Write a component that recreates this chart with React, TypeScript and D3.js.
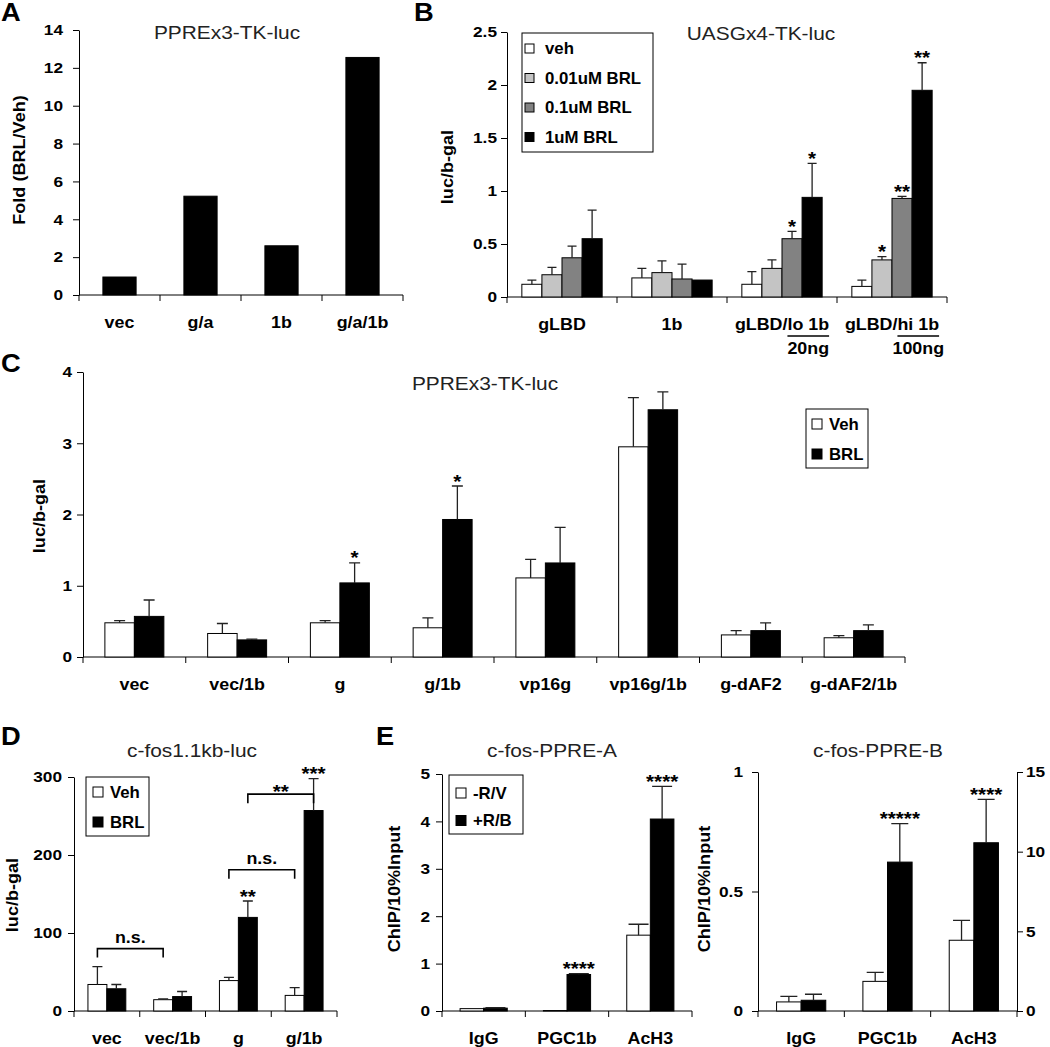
import React, { useEffect, useRef } from 'react';
import * as d3 from 'd3';

const FONT = "'Liberation Sans', Arial, Helvetica, sans-serif";

// ---- A: PPREx3-TK-luc fold induction
const aCats = ['vec', 'g/a', '1b', 'g/a/1b'];
const aFold = [0.95, 5.22, 2.6, 12.55];
const aTicks = [0, 2, 4, 6, 8, 10, 12, 14];

// ---- B: UASGx4-TK-luc, BRL dose response
const bCats = ['gLBD', '1b', 'gLBD/lo 1b', 'gLBD/hi 1b'];
const bSub = ['', '', '20ng', '100ng'];
const bDoses = ['veh', '0.01uM BRL', '0.1uM BRL', '1uM BRL'];
const bFills = ['#ffffff', '#c4c4c4', '#828282', '#000000'];
const bVeh = [0.12, 0.18, 0.12, 0.1];
const bVehErr = [0.16, 0.27, 0.24, 0.16];
const b001 = [0.21, 0.23, 0.27, 0.35];
const b001Err = [0.28, 0.34, 0.35, 0.38];
const b001Stars = ['', '', '', '*'];
const b01 = [0.37, 0.17, 0.55, 0.93];
const b01Err = [0.48, 0.31, 0.62, 0.95];
const b01Stars = ['', '', '*', '**'];
const b1 = [0.55, 0.16, 0.94, 1.95];
const b1Err = [0.82, 0.16, 1.26, 2.21];
const b1Stars = ['', '', '*', '**'];
const bTicks = [0, 0.5, 1, 1.5, 2, 2.5];

// ---- C: PPREx3-TK-luc, Veh vs BRL
const cCats = ['vec', 'vec/1b', 'g', 'g/1b', 'vp16g', 'vp16g/1b', 'g-dAF2', 'g-dAF2/1b'];
const cVeh = [0.48, 0.33, 0.48, 0.41, 1.11, 2.95, 0.31, 0.27];
const cVehErr = [0.51, 0.47, 0.51, 0.55, 1.37, 3.64, 0.37, 0.3];
const cBrl = [0.57, 0.24, 1.04, 1.93, 1.32, 3.47, 0.37, 0.37];
const cBrlErr = [0.8, 0.25, 1.32, 2.4, 1.82, 3.72, 0.48, 0.45];
const cBrlStars = ['', '', '*', '*', '', '', '', ''];
const cTicks = [0, 1, 2, 3, 4];

// ---- D: c-fos1.1kb-luc
const dCats = ['vec', 'vec/1b', 'g', 'g/1b'];
const dVeh = [34, 14.5, 39, 20];
const dVehErr = [57, 15.5, 43, 30];
const dBrl = [28.5, 18.5, 120, 257];
const dBrlErr = [34, 25, 141, 298];
const dBrlStars = ['', '', '**', '***'];
const dTicks = [0, 100, 200, 300];
// [category, series] pairs joined by a bracket, bracket height in data units
const dBrackets = [
  { a: ['vec', 0], b: ['vec/1b', 0], v: 80, label: 'n.s.' },
  { a: ['g', 0], b: ['g/1b', 0], v: 181, label: 'n.s.' },
  { a: ['g', 1], b: ['g/1b', 1], v: 278, label: '**' },
];

// ---- E: ChIP
const eCats = ['IgG', 'PGC1b', 'AcH3'];
const eLabels = ['-R/V', '+R/B'];
const eaVeh = [0.05, 0.01, 1.6];
const eaVehErr = [0.05, 0.01, 1.83];
const eaBrl = [0.06, 0.77, 4.05];
const eaBrlErr = [0.07, 0.79, 4.74];
const eaStars = ['', '****', '****'];
const eaTicks = [0, 1, 2, 3, 4, 5];
const ebVeh = [0.038, 0.124, 4.44];
const ebVehErr = [0.061, 0.162, 5.69];
const ebBrl = [0.045, 0.623, 10.56];
const ebBrlErr = [0.07, 0.784, 13.28];
const ebStars = ['', '*****', '****'];
const ebTicks = [0, 0.5, 1];
const ebRightTicks = [0, 5, 10, 15];

const treat = ['Veh', 'BRL'];

// text helper; sx widens the lettering a bit like in the scanned figure
function txt(g, x, y, s, size, o: any = {}) {
  const sx = o.sx ?? 1.05;
  const t = g
    .append('g')
    .attr('transform', `translate(${x},${y})` + (o.rot ? ` rotate(${o.rot})` : '') + ` scale(${sx},1)`)
    .append('text')
    .attr('text-anchor', o.anchor || 'middle')
    .attr('font-family', FONT)
    .attr('font-size', size)
    .attr('font-weight', o.normal ? 'normal' : 'bold')
    .attr('fill', o.fill || '#000')
    .text(s);
  if (o.dy) t.attr('dy', o.dy);
  return t;
}

function styleAxis(ax) {
  ax.attr('font-family', FONT).attr('font-size', 15).attr('font-weight', 'bold').attr('color', '#000');
  ax.selectAll('.tick text').each(function () {
    const t = d3.select(this);
    const xx = +t.attr('x');
    t.attr('x', 0).attr('transform', `translate(${xx},0) scale(1.15,1)`);
  });
}

function legend(g, L) {
  g.append('rect')
    .attr('x', L.x).attr('y', L.y).attr('width', L.w).attr('height', L.h)
    .attr('fill', '#fff').attr('stroke', '#000').attr('stroke-width', 1);
  L.items.forEach((label, i) => {
    const cy = L.row0 + i * L.step;
    g.append('rect')
      .attr('x', L.sx).attr('y', cy - L.ss / 2).attr('width', L.ss).attr('height', L.ss)
      .attr('fill', L.fills[i]).attr('stroke', '#000').attr('stroke-width', 1);
    txt(g, L.tx, cy, label, 16, { anchor: 'start', dy: '0.36em' });
  });
}

function drawPanel(svg, p) {
  const g = svg.append('g');
  const x = d3.scaleBand().domain(p.cats).range([p.x0, p.x1]);
  const y = d3.scaleLinear().domain([0, p.max]).range([p.yb, p.yt]);
  const yR = p.rMax ? d3.scaleLinear().domain([0, p.rMax]).range([p.yb, p.yt]) : null;
  const fmt = (d) => String(d);

  const ay = g
    .append('g')
    .attr('transform', `translate(${p.x0},0)`)
    .call(d3.axisLeft(y).tickValues(p.ticks).tickSize(6).tickSizeOuter(0).tickPadding(p.pad).tickFormat(fmt));
  styleAxis(ay);
  if (yR) {
    const ar = g
      .append('g')
      .attr('transform', `translate(${p.x1},0)`)
      .call(d3.axisRight(yR).tickValues(p.rTicks).tickSize(6).tickSizeOuter(0).tickPadding(3).tickFormat(fmt));
    styleAxis(ar);
  }

  // category axis with ticks at the group edges
  g.append('line')
    .attr('x1', p.x0).attr('x2', p.x1).attr('y1', p.yb).attr('y2', p.yb)
    .attr('stroke', '#000');
  const edges = p.cats.map((c) => x(c)).concat([p.x1]);
  g.append('g')
    .selectAll('line')
    .data(edges)
    .join('line')
    .attr('x1', (d) => d).attr('x2', (d) => d)
    .attr('y1', p.yb).attr('y2', p.yb + 6)
    .attr('stroke', '#000');

  p.cats.forEach((c, j) => {
    const lx = x(c) + x.bandwidth() / 2;
    const t = txt(g, lx, p.yb + 33, c, 17);
    if (p.subs && p.subs[j]) {
      const node = t.node();
      const k = c.indexOf('/') + 1;
      const s0 = node.getStartPositionOfChar(k).x;
      const s1 = node.getEndPositionOfChar(c.length - 1).x;
      d3.select(node.parentNode)
        .append('line')
        .attr('x1', s0).attr('x2', s1).attr('y1', 6).attr('y2', 6)
        .attr('stroke', '#000').attr('stroke-width', 1.5);
      txt(g, lx + (1.05 * (s0 + s1)) / 2, p.yb + 57, p.subs[j], 17);
    }
  });

  const w = x.bandwidth() * p.frac;
  const inner = d3.scaleBand().domain(d3.range(p.series.length)).range([-w / 2, w / 2]);
  const cx = (c, i) => x(c) + x.bandwidth() / 2 + inner(i) + inner.bandwidth() / 2;

  p.series.forEach((s, i) => {
    const rows = p.cats.map((c, j) => ({
      c,
      v: s.values[j],
      e: s.errs ? s.errs[j] : s.values[j],
      star: s.stars ? s.stars[j] : '',
      sc: c === p.rightCat ? yR : y,
    }));
    g.append('g')
      .selectAll('rect')
      .data(rows)
      .join('rect')
      .attr('x', (d) => cx(d.c, i) - inner.bandwidth() / 2)
      .attr('width', inner.bandwidth())
      .attr('y', (d) => d.sc(d.v))
      .attr('height', (d) => p.yb - d.sc(d.v))
      .attr('fill', s.fill)
      .attr('stroke', '#000')
      .attr('stroke-width', 1);
    g.append('g')
      .selectAll('path')
      .data(rows.filter((d) => d.e > d.v))
      .join('path')
      .attr('d', (d) => `M${cx(d.c, i)},${d.sc(d.v)}V${d.sc(d.e)}M${cx(d.c, i) - p.cap / 2},${d.sc(d.e)}h${p.cap}`)
      .attr('stroke', '#222')
      .attr('stroke-width', 1.3)
      .attr('fill', 'none');
    rows.filter((d) => d.star).forEach((d) => txt(g, cx(d.c, i), d.sc(d.e) + 1.5, d.star, 18, { sx: 1.15 }));
  });

  if (p.brackets) {
    p.brackets.forEach((b) => {
      const xa = cx(b.a[0], b.a[1]);
      const xb = cx(b.b[0], b.b[1]);
      const yy = y(b.v);
      g.append('path')
        .attr('d', `M${xa},${yy + 9}V${yy}H${xb}V${yy + 9}`)
        .attr('fill', 'none').attr('stroke', '#000').attr('stroke-width', 1.6);
      if (b.label === 'n.s.') txt(g, (xa + xb) / 2, yy - 6, b.label, 17);
      else txt(g, (xa + xb) / 2, yy + 4, b.label, 18, { sx: 1.15 });
    });
  }

  if (p.legend) legend(g, p.legend);
  if (p.title) txt(g, p.title[0], p.title[1], p.title[2], 18.5, { normal: true, fill: '#222', sx: 1.13 });
  if (p.ylab) txt(g, p.ylab[0], p.ylab[1], p.ylab[2], 16, { rot: -90, sx: 1.13 });
  if (p.letter) txt(g, p.letter[0], p.letter[1], p.letter[2], 26, { anchor: 'start' });
}

export default function App() {
  const ref = useRef(null);
  useEffect(() => {
    const svg = d3.select(ref.current);
    svg.selectAll('*').remove();

    drawPanel(svg, {
      cats: aCats, x0: 79, x1: 403, yb: 295, yt: 30, max: 14, ticks: aTicks, pad: 10, frac: 0.41, cap: 0,
      series: [{ values: aFold, fill: '#000' }],
      title: [227, 39, 'PPREx3-TK-luc'],
      ylab: [25, 160, 'Fold (BRL/Veh)'],
      letter: [1, 21, 'A'],
    });

    drawPanel(svg, {
      cats: bCats, subs: bSub, x0: 507, x1: 947, yb: 297, yt: 32, max: 2.5, ticks: bTicks, pad: 4, frac: 0.73, cap: 9,
      series: [
        { values: bVeh, errs: bVehErr, fill: bFills[0] },
        { values: b001, errs: b001Err, stars: b001Stars, fill: bFills[1] },
        { values: b01, errs: b01Err, stars: b01Stars, fill: bFills[2] },
        { values: b1, errs: b1Err, stars: b1Stars, fill: bFills[3] },
      ],
      legend: { x: 522, y: 33, w: 131, h: 119, items: bDoses, fills: bFills, sx: 525, ss: 9, tx: 545, row0: 48.5, step: 29.5 },
      title: [761, 40, 'UASGx4-TK-luc'],
      ylab: [453, 167, 'luc/b-gal'],
      letter: [414, 21, 'B'],
    });

    drawPanel(svg, {
      cats: cCats, x0: 83, x1: 905, yb: 657, yt: 372, max: 4, ticks: cTicks, pad: 5, frac: 0.574, cap: 11,
      series: [
        { values: cVeh, errs: cVehErr, fill: '#fff' },
        { values: cBrl, errs: cBrlErr, stars: cBrlStars, fill: '#000' },
      ],
      legend: { x: 806, y: 409, w: 62, h: 59, items: treat, fills: ['#fff', '#000'], sx: 812, ss: 10, tx: 829, row0: 424, step: 30 },
      title: [485, 390, 'PPREx3-TK-luc'],
      ylab: [45, 516, 'luc/b-gal'],
      letter: [1, 372, 'C'],
    });

    drawPanel(svg, {
      cats: dCats, x0: 74, x1: 337, yb: 1011, yt: 777, max: 300, ticks: dTicks, pad: 6, frac: 0.576, cap: 10,
      series: [
        { values: dVeh, errs: dVehErr, fill: '#fff' },
        { values: dBrl, errs: dBrlErr, stars: dBrlStars, fill: '#000' },
      ],
      brackets: dBrackets,
      legend: { x: 86, y: 777, w: 63, h: 59, items: treat, fills: ['#fff', '#000'], sx: 93, ss: 10, tx: 110, row0: 792, step: 30 },
      title: [192, 757, 'c-fos1.1kb-luc'],
      ylab: [18, 895, 'luc/b-gal'],
      letter: [1, 745, 'D'],
    });

    drawPanel(svg, {
      cats: eCats, x0: 442, x1: 692, yb: 1011, yt: 774, max: 5, ticks: eaTicks, pad: 6, frac: 0.566, cap: 20,
      series: [
        { values: eaVeh, errs: eaVehErr, fill: '#fff' },
        { values: eaBrl, errs: eaBrlErr, stars: eaStars, fill: '#000' },
      ],
      legend: { x: 449, y: 775, w: 74, h: 59, items: eLabels, fills: ['#fff', '#000'], sx: 456, ss: 10, tx: 473, row0: 793, step: 27.5 },
      title: [552, 757, 'c-fos-PPRE-A'],
      ylab: [400, 889, 'ChIP/10%Input'],
      letter: [376, 745, 'E'],
    });

    drawPanel(svg, {
      cats: eCats, x0: 758, x1: 1017, yb: 1011, yt: 772, max: 1, ticks: ebTicks, pad: 9, frac: 0.57, cap: 17,
      rMax: 15, rTicks: ebRightTicks, rightCat: 'AcH3',
      series: [
        { values: ebVeh, errs: ebVehErr, fill: '#fff' },
        { values: ebBrl, errs: ebBrlErr, stars: ebStars, fill: '#000' },
      ],
      title: [878, 757, 'c-fos-PPRE-B'],
      ylab: [710, 889, 'ChIP/10%Input'],
    });
  }, []);

  return (
    <svg
      ref={ref}
      width={1050}
      height={1047}
      style={{ position: 'absolute', left: 0, top: 0, background: '#fff' }}
    />
  );
}
